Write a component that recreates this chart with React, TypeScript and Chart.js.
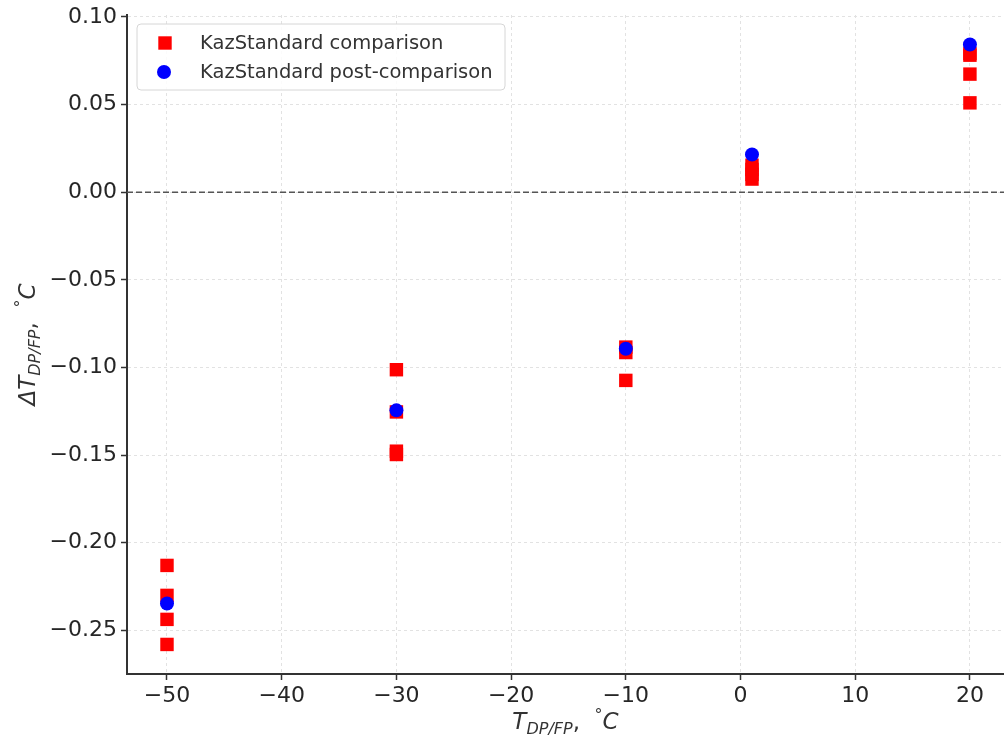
import { useEffect, useRef } from "react";
import { Chart, registerables } from "chart.js";

Chart.register(...registerables);

const comparisonLabel = "KazStandard comparison";
const postLabel = "KazStandard post-comparison";

const comparisonX = [-50, -50, -50, -50, -30, -30, -30, -30, -10, -10, -10, 1, 1, 1, 1, 20, 20, 20, 20];
const comparisonY = [-0.213, -0.2301, -0.2438, -0.2581, -0.1013, -0.1254, -0.1478, -0.1497, -0.0884, -0.0915, -0.1074, 0.0075, 0.0102, 0.013, 0.0154, 0.0792, 0.0782, 0.0674, 0.051];

const postX = [-50, -30, -10, 1, 20];
const postY = [-0.2347, -0.1245, -0.0893, 0.0215, 0.0843];

const xTicks = [-50, -40, -30, -20, -10, 0, 10, 20];
const yTicks = [0.1, 0.05, 0, -0.05, -0.1, -0.15, -0.2, -0.25];

const FONT = '"DejaVu Sans", sans-serif';

type Part = { t: string; italic?: boolean; scale?: number; dy?: number };

function drawMath(ctx: CanvasRenderingContext2D, parts: Part[], size: number, cx: number, baseY: number) {
  const fontOf = (p: Part) => `${p.italic ? "italic " : ""}${Math.round(size * (p.scale ?? 1))}px ${FONT}`;
  let total = 0;
  const widths = parts.map((p) => {
    ctx.font = fontOf(p);
    const w = ctx.measureText(p.t).width;
    total += w;
    return w;
  });
  let x = cx - total / 2;
  ctx.textAlign = "left";
  ctx.textBaseline = "alphabetic";
  parts.forEach((p, i) => {
    ctx.font = fontOf(p);
    ctx.fillText(p.t, x, baseY + (p.dy ?? 0) * size);
    x += widths[i];
  });
}

const decorPlugin = {
  id: "decor",
  beforeDatasetsDraw(chart: any) {
    const { ctx, chartArea, scales } = chart;
    const y0 = scales.y.getPixelForValue(0);
    ctx.save();
    ctx.strokeStyle = "#555555";
    ctx.lineWidth = 1.5;
    ctx.setLineDash([6, 3]);
    ctx.beginPath();
    ctx.moveTo(chartArea.left, y0);
    ctx.lineTo(chartArea.right, y0);
    ctx.stroke();
    ctx.restore();
  },
  afterDraw(chart: any) {
    const { ctx, chartArea } = chart;
    ctx.save();
    ctx.fillStyle = "#333333";
    const sub = 0.7;
    const xParts: Part[] = [
      { t: "T", italic: true },
      { t: "DP/FP", italic: true, scale: sub, dy: 0.2 },
      { t: ",  " },
      { t: "°", scale: sub, dy: -0.4 },
      { t: "C", italic: true },
    ];
    drawMath(ctx, xParts, 23, (chartArea.left + chartArea.right) / 2, 729);

    const yParts: Part[] = [
      { t: "ΔT", italic: true },
      { t: "DP/FP", italic: true, scale: sub, dy: 0.2 },
      { t: ",  " },
      { t: "°", scale: sub, dy: -0.4 },
      { t: "C", italic: true },
    ];
    ctx.save();
    ctx.translate(35, (chartArea.top + chartArea.bottom) / 2);
    ctx.rotate(-Math.PI / 2);
    drawMath(ctx, yParts, 23, 0, 0);
    ctx.restore();

    // legend
    const bx = 137, by = 24, bw = 368, bh = 66, r = 4;
    ctx.beginPath();
    ctx.moveTo(bx + r, by);
    ctx.arcTo(bx + bw, by, bx + bw, by + bh, r);
    ctx.arcTo(bx + bw, by + bh, bx, by + bh, r);
    ctx.arcTo(bx, by + bh, bx, by, r);
    ctx.arcTo(bx, by, bx + bw, by, r);
    ctx.closePath();
    ctx.fillStyle = "rgba(255,255,255,0.85)";
    ctx.fill();
    ctx.strokeStyle = "#d6d6d6";
    ctx.lineWidth = 1;
    ctx.stroke();

    const ds = chart.data.datasets;
    const rows = [43, 72];
    ctx.font = `19.5px ${FONT}`;
    ctx.textBaseline = "middle";
    ctx.textAlign = "left";
    ds.forEach((d: any, i: number) => {
      const yy = rows[i];
      ctx.fillStyle = d.backgroundColor;
      if (d.pointStyle === "rect") {
        ctx.fillRect(165 - 6.7, yy - 6.7, 13.4, 13.4);
      } else {
        ctx.beginPath();
        ctx.arc(164, yy, 7, 0, Math.PI * 2);
        ctx.fill();
      }
      ctx.fillStyle = "#333333";
      ctx.fillText(d.label, 200, yy + 1);
    });
    ctx.restore();
  },
};

const minus = (s: string) => s.replace("-", "\u2212");

export default function App() {
  const ref = useRef<HTMLCanvasElement | null>(null);
  useEffect(() => {
    document.body.style.margin = "0";
    const canvas = ref.current;
    if (!canvas) return;
    const chart = new Chart(canvas, {
      type: "scatter",
      data: {
        datasets: [
          {
            label: comparisonLabel,
            data: comparisonX.map((x, i) => ({ x, y: comparisonY[i] })),
            backgroundColor: "#ff0000",
            borderWidth: 0,
            pointStyle: "rect",
            pointRadius: 9.5,
            pointHoverRadius: 9.5,
            order: 2,
          },
          {
            label: postLabel,
            data: postX.map((x, i) => ({ x, y: postY[i] })),
            backgroundColor: "#0000ff",
            borderWidth: 0,
            pointStyle: "circle",
            pointRadius: 7,
            pointHoverRadius: 7,
            order: 1,
          },
        ],
      },
      options: {
        responsive: false,
        maintainAspectRatio: false,
        animation: false,
        layout: { autoPadding: false, padding: { top: 15, right: 0, bottom: 0, left: 0 } },
        plugins: { legend: { display: false }, tooltip: { enabled: false } },
        scales: {
          x: {
            type: "linear",
            min: -53.487,
            max: 22.97,
            afterFit: (s: any) => {
              s.height = 66;
              s.paddingLeft = 0;
              s.paddingRight = 0;
            },
            afterBuildTicks: (s: any) => {
              s.ticks = xTicks.map((v) => ({ value: v }));
            },
            ticks: {
              includeBounds: false,
              color: "#262626",
              font: { family: FONT, size: 22 },
              padding: 3,
              maxRotation: 0,
              callback: (v: any) => minus(String(v)),
            },
            grid: {
              color: "#e2e2e2",
              lineWidth: 1,
              tickColor: "#333333",
              tickLength: 6,
              tickWidth: 1.5,
              tickBorderDash: [],
            },
            border: { color: "#333333", width: 2, dash: [3, 3] },
          },
          y: {
            type: "linear",
            min: -0.27497,
            max: 0.10114,
            afterFit: (s: any) => {
              s.width = 127;
              s.paddingTop = 0;
              s.paddingBottom = 0;
            },
            afterBuildTicks: (s: any) => {
              s.ticks = yTicks.map((v) => ({ value: v }));
            },
            ticks: {
              includeBounds: false,
              color: "#262626",
              font: { family: FONT, size: 22 },
              padding: 4,
              callback: (v: any) => minus(Number(v).toFixed(2)),
            },
            grid: {
              color: "#e2e2e2",
              lineWidth: 1,
              tickColor: "#333333",
              tickLength: 6,
              tickWidth: 1.5,
              tickBorderDash: [],
            },
            border: { color: "#333333", width: 2, dash: [3, 3] },
          },
        },
      },
      plugins: [decorPlugin],
    } as any);
    return () => chart.destroy();
  }, []);
  return <canvas ref={ref} width={1004} height={740} style={{ display: "block" }} />;
}
